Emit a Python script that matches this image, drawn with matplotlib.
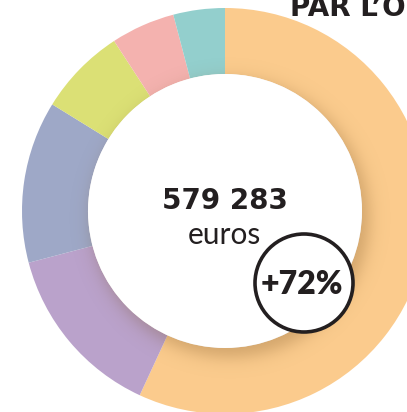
import numpy as np
import matplotlib
matplotlib.use("Agg")
import matplotlib.pyplot as plt
from matplotlib.patches import Circle

# parts of the total, clockwise from 12 o'clock (percent)
shares = [56.9, 14.0, 12.9, 7.0, 5.1, 4.1]
colors = ["#FBCB8D", "#BAA2CB", "#9EA8C7", "#DBE075", "#F4B2AF", "#93CFCD"]
total_label = "579 283"
unit_label = "euros"
change_label = "+72%"
title = "PAR L\u2019ORIGINE"

W, H = 407, 412
fig = plt.figure(figsize=(W / 100, H / 100), dpi=100)
ax = fig.add_axes([0, 0, 1, 1])

cx, cy = 225, 201
r_out, r_in = 203, 137

ax.pie(shares, colors=colors, startangle=90, counterclock=False,
       radius=r_out, center=(cx, cy),
       wedgeprops=dict(width=r_out - r_in, linewidth=0))

# soft shadow under the white centre
xx, yy = np.meshgrid(np.arange(W) + 0.5, np.arange(H) + 0.5)
d = np.hypot(xx - (cx + 5), yy - (cy - 7))
alpha = 0.30 / (1 + np.exp((d - (r_in + 2)) / 5))
shadow = np.zeros((H, W, 4))
shadow[..., 0] = 0.45
shadow[..., 1] = 0.30
shadow[..., 2] = 0.12
shadow[..., 3] = alpha
ax.imshow(shadow, extent=(0, W, 0, H), origin="lower", zorder=2,
          interpolation="bilinear")

ax.add_patch(Circle((cx, cy), r_in, facecolor="white", edgecolor="none", zorder=3))

ax.text(cx, 203, total_label, ha="center", va="baseline", fontsize=20,
        fontweight="bold", color="#231F20", family="DejaVu Sans", zorder=4)
ax.text(cx - 1, 168, unit_label, ha="center", va="baseline", fontsize=21.5,
        fontweight="normal", color="#231F20", family="Lato", zorder=4)

# badge
ax.add_patch(Circle((304, 129), 49, facecolor="white", edgecolor="#231F20",
                    linewidth=2.6, zorder=5))
ax.text(302, 118, change_label, ha="center", va="baseline", fontsize=23,
        fontweight="heavy", color="#231F20", family="Lato", zorder=6)

ax.text(290, 396, title, ha="left", va="baseline", fontsize=20,
        fontweight="bold", color="#231F20", family="DejaVu Sans", zorder=6)

ax.set_xlim(0, W)
ax.set_ylim(0, H)
ax.set_aspect("equal")
ax.axis("off")

fig.savefig("out.png", dpi=100)
